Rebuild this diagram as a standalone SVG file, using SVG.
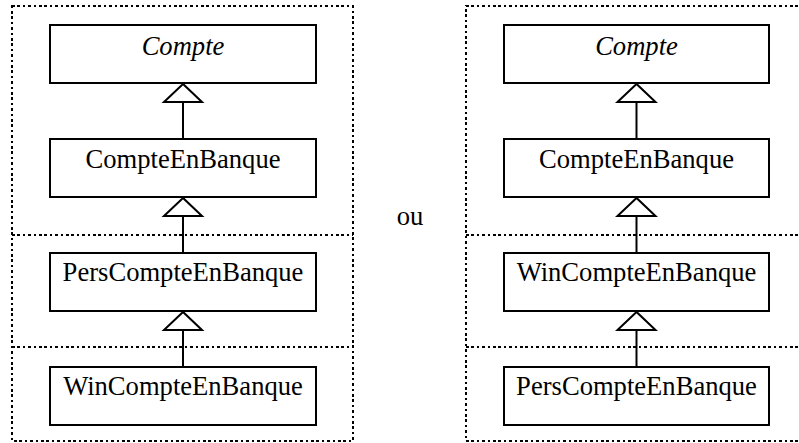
<svg xmlns="http://www.w3.org/2000/svg" width="799" height="443" viewBox="0 0 799 443">
  <style>
    .frame { fill: none; stroke: #000; stroke-width: 2.2; stroke-dasharray: 2.6 2.8; shape-rendering: crispEdges; }
    .cls { fill: #fff; stroke: #000; stroke-width: 2; }
    .lbl { font-family: "Liberation Serif", "Times New Roman", "DejaVu Serif", serif; font-size: 26.6px; fill: #000; text-anchor: middle; }
    .abs { font-style: italic; }
    .edge { stroke: #000; stroke-width: 2; fill: none; }
    .head { fill: #fff; stroke: #000; stroke-width: 2; stroke-linejoin: miter; }
  </style>
  <rect width="799" height="443" fill="#fff"/>

  <!-- dotted package frames -->
  <g id="frames">
    <rect class="frame" x="12" y="6" width="341" height="435"/>
    <line class="frame" x1="12" y1="235" x2="353" y2="235"/>
    <line class="frame" x1="12" y1="347" x2="353" y2="347"/>
    <rect class="frame" x="466" y="6" width="340" height="435"/>
    <line class="frame" x1="466" y1="235" x2="806" y2="235"/>
    <line class="frame" x1="466" y1="347" x2="806" y2="347"/>
  </g>

  <!-- generalisation connectors -->
  <g id="connectors">
    <line class="edge" x1="183" y1="102" x2="183" y2="139"/>
    <polygon class="head" points="183,84 164,102 202,102"/>
    <line class="edge" x1="183" y1="216" x2="183" y2="253"/>
    <polygon class="head" points="183,198 164,216 202,216"/>
    <line class="edge" x1="183" y1="330" x2="183" y2="367"/>
    <polygon class="head" points="183,312 164,330 202,330"/>

    <line class="edge" x1="636.5" y1="102" x2="636.5" y2="139"/>
    <polygon class="head" points="636.5,84 617.5,102 655.5,102"/>
    <line class="edge" x1="636.5" y1="216" x2="636.5" y2="253"/>
    <polygon class="head" points="636.5,198 617.5,216 655.5,216"/>
    <line class="edge" x1="636.5" y1="330" x2="636.5" y2="367"/>
    <polygon class="head" points="636.5,312 617.5,330 655.5,330"/>
  </g>

  <!-- left hierarchy -->
  <g id="l-compte">
    <rect class="cls" x="50" y="25" width="266" height="58"/>
    <text class="lbl abs" x="183" y="55">Compte</text>
  </g>
  <g id="l-compteenbanque">
    <rect class="cls" x="50" y="139" width="266" height="58"/>
    <text class="lbl" x="183" y="168">CompteEnBanque</text>
  </g>
  <g id="l-perscompteenbanque">
    <rect class="cls" x="50" y="253" width="266" height="58"/>
    <text class="lbl" x="183" y="281">PersCompteEnBanque</text>
  </g>
  <g id="l-wincompteenbanque">
    <rect class="cls" x="50" y="367" width="266" height="58"/>
    <text class="lbl" x="183" y="395">WinCompteEnBanque</text>
  </g>

  <text id="ou" class="lbl" x="410" y="225">ou</text>

  <!-- right hierarchy -->
  <g id="r-compte">
    <rect class="cls" x="504" y="25" width="265" height="58"/>
    <text class="lbl abs" x="636.5" y="55">Compte</text>
  </g>
  <g id="r-compteenbanque">
    <rect class="cls" x="504" y="139" width="265" height="58"/>
    <text class="lbl" x="636.5" y="168">CompteEnBanque</text>
  </g>
  <g id="r-wincompteenbanque">
    <rect class="cls" x="504" y="253" width="265" height="58"/>
    <text class="lbl" x="636.5" y="281">WinCompteEnBanque</text>
  </g>
  <g id="r-perscompteenbanque">
    <rect class="cls" x="504" y="367" width="265" height="58"/>
    <text class="lbl" x="636.5" y="395">PersCompteEnBanque</text>
  </g>
</svg>
